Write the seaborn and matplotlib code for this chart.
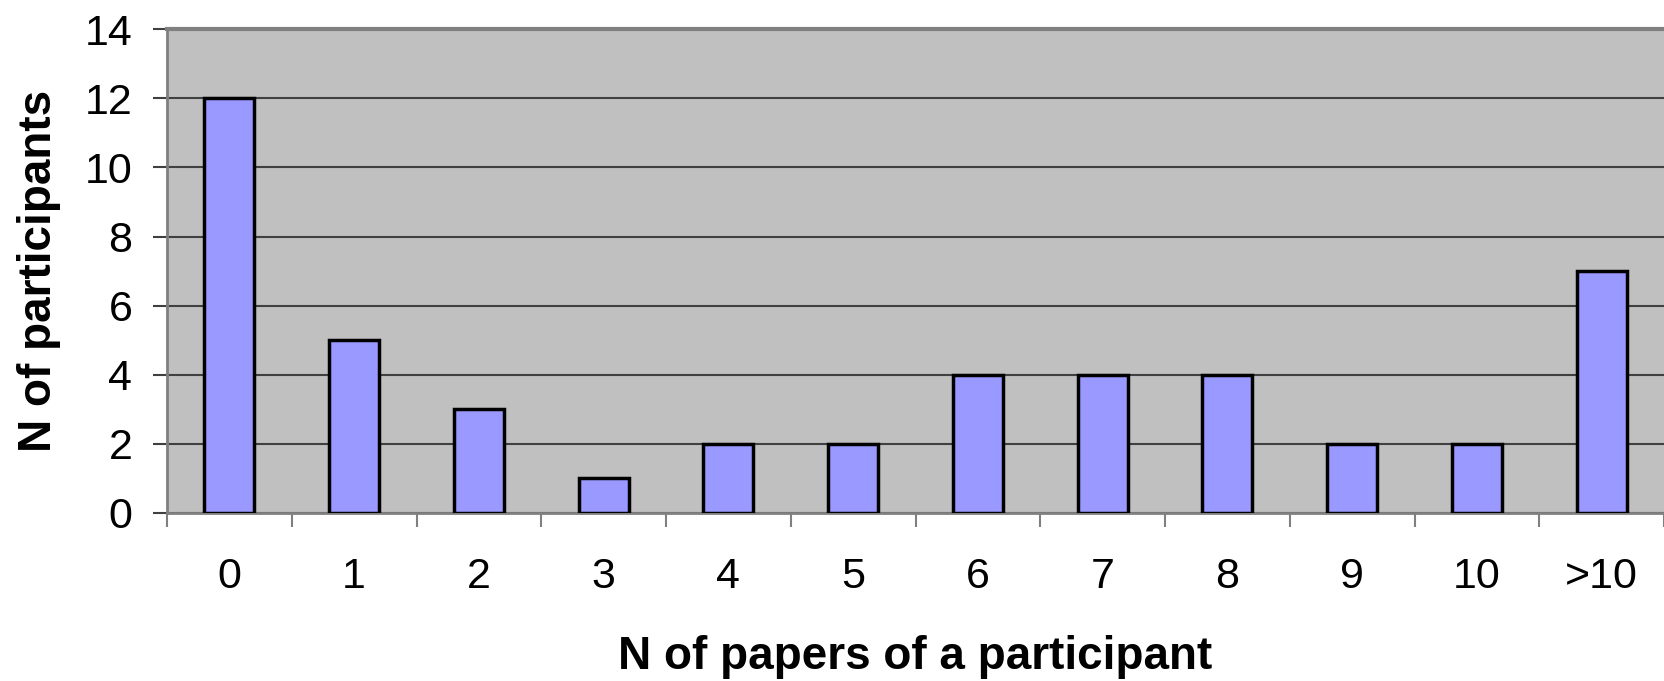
import numpy as np
import pandas as pd
import seaborn as sns
import matplotlib.pyplot as plt
from matplotlib.ticker import FixedLocator

categories = ['0', '1', '2', '3', '4', '5', '6', '7', '8', '9', '10', '>10']
participants = [12, 5, 3, 1, 2, 2, 4, 4, 4, 2, 2, 7]

sns.set_style('white')
plt.rcParams['font.family'] = ['Liberation Sans', 'DejaVu Sans']
plt.rcParams['text.color'] = 'black'
plt.rcParams['xtick.labelcolor'] = 'black'
plt.rcParams['ytick.labelcolor'] = 'black'
plt.rcParams['axes.labelcolor'] = 'black'

df = pd.DataFrame({'papers': categories, 'n': participants})

fig, ax = plt.subplots(figsize=(16.64, 6.81), dpi=100)
fig.subplots_adjust(left=0.1004, right=1.0, top=0.957, bottom=0.2467)

ax.set_facecolor('#C0C0C0')
sns.barplot(data=df, x='papers', y='n', color='#9999FF', saturation=1,
            width=0.4, edgecolor='black', linewidth=2.5, ax=ax, zorder=3)

ax.set_xlim(-0.5, len(categories) - 0.5)
ax.set_ylim(0, 14)
ax.set_yticks(np.arange(0, 15, 2))
ax.yaxis.grid(True, color='#404040', linewidth=1.5, zorder=1)
ax.set_axisbelow(True)

ax.xaxis.set_minor_locator(FixedLocator(np.arange(-0.5, len(categories), 1)))
ax.tick_params(axis='x', which='major', length=0, pad=32, labelsize=31)
ax.tick_params(axis='x', which='minor', length=10, width=1.5, color='#808080',
               direction='out', bottom=True)
ax.tick_params(axis='y', which='major', length=10, width=1.5, color='#404040',
               direction='out', left=True, pad=15, labelsize=31)

for side in ['top', 'left', 'bottom']:
    ax.spines[side].set_color('#808080')
    ax.spines[side].set_linewidth(2)
ax.spines['top'].set_linewidth(3)
ax.spines['right'].set_visible(False)

ax.set_xlabel('N of papers of a participant', fontsize=33, fontweight='bold')
ax.set_ylabel('N of participants', fontsize=33, fontweight='bold')
ax.xaxis.set_label_coords(0.5, -0.252)
ax.yaxis.set_label_coords(-0.0708, 0.5)

fig.savefig('out.png', dpi=100)
